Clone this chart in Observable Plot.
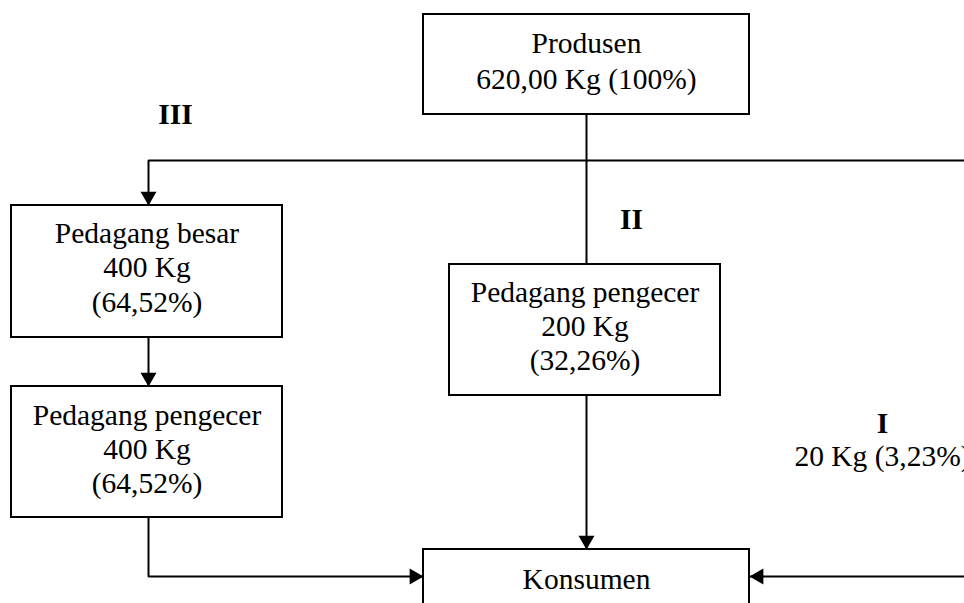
<!DOCTYPE html>
<html><head><meta charset="utf-8">
<script src="https://cdn.jsdelivr.net/npm/d3@7"></script>
<script src="https://cdn.jsdelivr.net/npm/@observablehq/plot@0.6"></script>
<style>html,body{margin:0;padding:0;background:#fff;overflow:hidden}</style>
</head><body><div id="chart"></div>
<script>
// ---- content ----
const nodeIds = ["produsen", "besar", "pengecer3", "pengecer2", "konsumen"];
const nodeLines = [
  ["Produsen", "620,00 Kg (100%)"],
  ["Pedagang besar", "400 Kg", "(64,52%)"],
  ["Pedagang pengecer", "400 Kg", "(64,52%)"],
  ["Pedagang pengecer", "200 Kg", "(32,26%)"],
  ["Konsumen"]
];
const channelLabels = ["III", "II", "I"];
const channelNote = "20 Kg (3,23%)";

// ---- layout (pixels) ----
const boxX1 = [423, 11, 11, 449, 423];
const boxX2 = [749, 282, 282, 720, 749];
const boxY1 = [14, 205, 386, 264, 549];
const boxY2 = [114, 337, 517, 395, 650];
const firstBaseline = [52, 242, 424, 301, 588];
const lineGap = [36, 34.5, 34, 34, 34];
const labelPos = [[175, 123], [631, 228], [882, 432]];
const notePos = [882, 465];
const paths = [
  [[586, 114], [586, 264]],
  [[148, 205], [148, 160], [990, 160]],
  [[148, 337], [148, 386]],
  [[148, 517], [148, 576], [423, 576]],
  [[586, 395], [586, 549]],
  [[990, 576], [749, 576]]
];
// arrow tips and direction (rotation degrees, 0 = up)
const arrowTips = [[148, 205, 180], [148, 386, 180], [423, 576, 90], [586, 549, 180], [749, 576, 270]];

// ---- derived tables ----
const boxes = nodeIds.map((id, i) => ({id, x1: boxX1[i], x2: boxX2[i], y1: boxY1[i], y2: boxY2[i]}));
const texts = nodeLines.flatMap((lines, i) => lines.map((t, j) => ({
  t, x: (boxX1[i] + boxX2[i]) / 2, y: firstBaseline[i] + j * lineGap[i]
})));
const pts = paths.flatMap((p, k) => p.map(([x, y]) => ({k, x, y})));
const side = 16;
const off = side / Math.sqrt(3); // centroid-to-tip distance
const arrows = arrowTips.map(([x, y, r]) => {
  const a = r * Math.PI / 180;
  return {x: x - Math.sin(a) * off, y: y + Math.cos(a) * off, r};
});
const labels = channelLabels.map((t, i) => ({t, x: labelPos[i][0], y: labelPos[i][1]}));

const font = "Liberation Serif, Times New Roman, serif";
const fs = 29.5;
const chart = Plot.plot({
  width: 964, height: 603,
  margin: 0,
  x: {domain: [0, 964], range: [0, 964], axis: null},
  y: {domain: [0, 603], range: [0, 603], axis: null},
  style: {background: "white", fontFamily: font},
  marks: [
    Plot.line(pts, {x: "x", y: "y", z: "k", stroke: "black", strokeWidth: 2, strokeLinejoin: "miter", curve: "linear"}),
    Plot.rect(boxes, {x1: "x1", x2: "x2", y1: "y1", y2: "y2", fill: "white", stroke: "black", strokeWidth: 2}),
    Plot.dot(arrows, {x: "x", y: "y", rotate: "r", symbol: "triangle", r: side * Math.sqrt(Math.sqrt(3) / 4 / Math.PI), fill: "black", stroke: "none"}),
    Plot.text(texts, {x: "x", y: "y", text: "t", lineAnchor: "bottom", fontSize: fs, fill: "black", fontFamily: font}),
    Plot.text(labels, {x: "x", y: "y", text: "t", lineAnchor: "bottom", fontSize: fs, fontWeight: "bold", fill: "black", fontFamily: font}),
    Plot.text([channelNote], {x: () => notePos[0], y: () => notePos[1], text: d => d, lineAnchor: "bottom", fontSize: fs, fill: "black", fontFamily: font})
  ]
});
document.getElementById("chart").appendChild(chart);
</script>
</body></html>
